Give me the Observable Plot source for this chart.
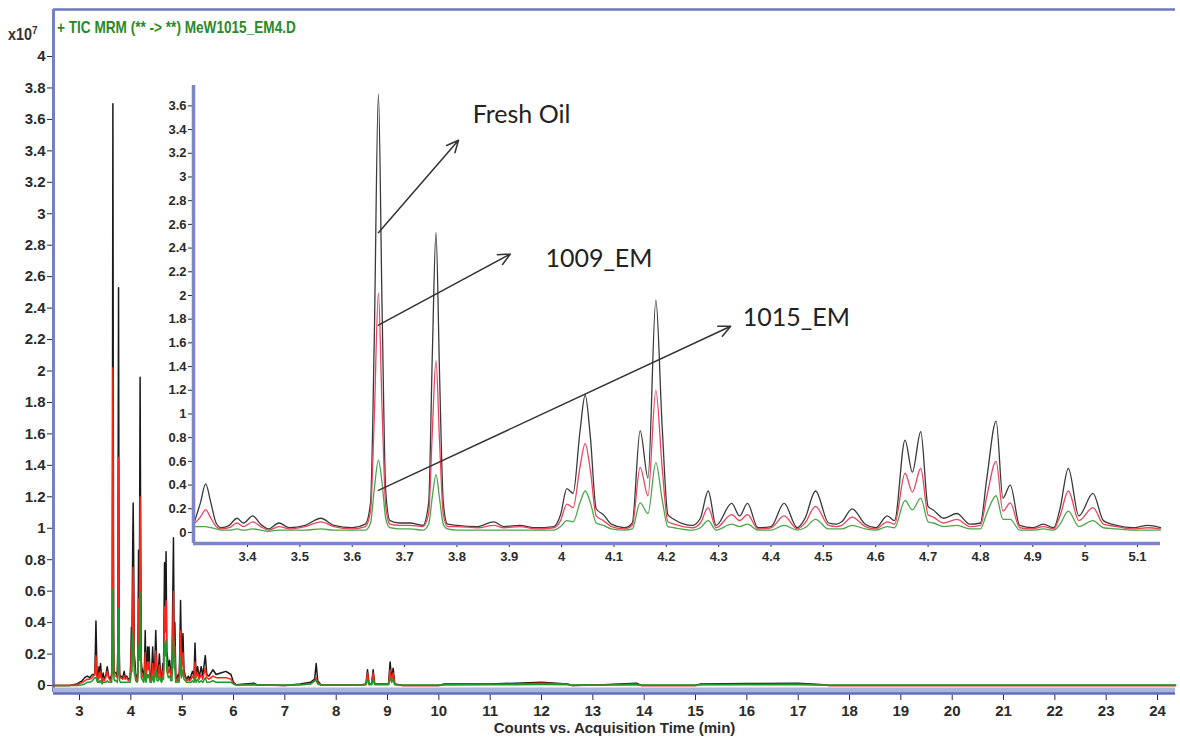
<!DOCTYPE html>
<html><head><meta charset="utf-8">
<script src="https://cdn.jsdelivr.net/npm/d3@7"></script>
<script src="https://cdn.jsdelivr.net/npm/@observablehq/plot@0.6"></script>
<style>
body{margin:0;background:#fff;}
#wrap{position:relative;width:1180px;height:740px;overflow:hidden;font-family:"Liberation Sans",Arial,sans-serif;background:#fff;}
#main,#inset{position:absolute;}
#main{left:0;top:0;}
#inset{left:143px;top:75px;}
#title{position:absolute;left:57px;top:18px;color:#2a8a2a;font-weight:bold;font-size:17px;transform:scaleX(0.8);transform-origin:left top;white-space:nowrap;}
#mult{position:absolute;left:8px;top:24px;font-size:16px;font-weight:bold;color:#333;transform:scaleX(0.9);transform-origin:left top;}
#mult sup{font-size:11px;}
</style></head>
<body>
<div id="wrap">
  <div id="main"></div>
  <div id="inset"></div>
  <div id="title">+ TIC MRM (** -&gt; **) MeW1015_EM4.D</div>
  <div id="mult">x10<sup>7</sup></div>
</div>
<script>
// ---------- Data (values in x10^7 counts) ----------
const seriesNames = ["Fresh Oil", "1009_EM", "1015_EM"];
const seriesColorsMain = ["#1a1a1a", "#ff2418", "#1f9a2a"];
const seriesColorsInset = ["#3a3a3a", "#e8465e", "#4ea64a"];

// Inset window (3.3 - 5.14 min)
const insetTime = [3.297,3.310,3.320,3.330,3.340,3.350,3.365,3.380,3.392,3.410,3.425,3.440,3.460,3.480,3.510,3.540,3.565,3.600,3.625,3.635,3.642,3.650,3.657,3.664,3.672,3.690,3.710,3.735,3.746,3.753,3.760,3.767,3.774,3.782,3.800,3.840,3.870,3.890,3.920,3.950,3.985,3.998,4.010,4.022,4.035,4.045,4.055,4.066,4.080,4.095,4.120,4.135,4.150,4.165,4.180,4.192,4.203,4.215,4.250,4.265,4.280,4.295,4.325,4.340,4.355,4.375,4.400,4.425,4.450,4.465,4.485,4.510,4.525,4.535,4.555,4.580,4.600,4.622,4.636,4.656,4.670,4.686,4.700,4.710,4.730,4.755,4.780,4.800,4.812,4.830,4.843,4.857,4.875,4.900,4.920,4.940,4.952,4.968,4.988,5.015,5.035,5.060,5.090,5.120,5.144];
const insetFresh = [0.07,0.25,0.41,0.25,0.08,0.04,0.06,0.12,0.08,0.14,0.07,0.03,0.08,0.04,0.06,0.12,0.06,0.04,0.07,0.25,1.6,3.70,1.9,0.35,0.10,0.08,0.08,0.06,0.25,1.5,2.53,1.3,0.25,0.07,0.06,0.05,0.09,0.05,0.06,0.04,0.05,0.15,0.37,0.33,0.85,1.16,0.8,0.2,0.15,0.07,0.04,0.08,0.86,0.46,1.96,0.9,0.15,0.11,0.06,0.12,0.35,0.06,0.245,0.14,0.245,0.04,0.05,0.245,0.04,0.12,0.35,0.08,0.07,0.09,0.20,0.07,0.04,0.14,0.10,0.78,0.51,0.85,0.22,0.19,0.12,0.16,0.07,0.08,0.45,0.94,0.29,0.40,0.06,0.04,0.07,0.04,0.2,0.54,0.14,0.33,0.10,0.06,0.04,0.06,0.04];
const inset1009 = [0.07,0.13,0.19,0.12,0.05,0.03,0.04,0.08,0.05,0.09,0.05,0.02,0.05,0.03,0.05,0.09,0.05,0.03,0.05,0.18,0.95,2.02,1.05,0.22,0.07,0.06,0.06,0.05,0.16,0.85,1.45,0.75,0.15,0.05,0.05,0.04,0.06,0.04,0.05,0.03,0.04,0.10,0.24,0.21,0.55,0.75,0.52,0.14,0.10,0.05,0.03,0.06,0.55,0.31,1.20,0.55,0.09,0.07,0.04,0.08,0.21,0.04,0.15,0.10,0.15,0.03,0.04,0.14,0.03,0.08,0.22,0.06,0.05,0.06,0.13,0.05,0.03,0.09,0.07,0.50,0.34,0.54,0.15,0.13,0.08,0.11,0.05,0.06,0.30,0.60,0.18,0.25,0.04,0.03,0.05,0.03,0.14,0.35,0.10,0.21,0.07,0.05,0.03,0.04,0.03];
const inset1015 = [0.05,0.05,0.05,0.04,0.03,0.02,0.02,0.03,0.02,0.03,0.02,0.01,0.02,0.02,0.02,0.03,0.02,0.02,0.02,0.08,0.36,0.61,0.42,0.12,0.04,0.03,0.03,0.02,0.07,0.30,0.49,0.28,0.07,0.03,0.02,0.02,0.02,0.02,0.02,0.02,0.02,0.05,0.10,0.09,0.25,0.35,0.25,0.08,0.06,0.03,0.02,0.03,0.25,0.16,0.59,0.28,0.05,0.04,0.02,0.04,0.10,0.02,0.07,0.05,0.07,0.02,0.02,0.06,0.02,0.04,0.11,0.03,0.03,0.03,0.06,0.03,0.02,0.05,0.04,0.27,0.19,0.29,0.09,0.08,0.05,0.06,0.03,0.03,0.16,0.31,0.11,0.11,0.02,0.02,0.03,0.02,0.07,0.18,0.05,0.10,0.04,0.03,0.02,0.02,0.02];

// Main chart, before the inset window
const earlyTime  = [2.49,2.80,2.95,3.05,3.10,3.15,3.20,3.25];
const earlyFresh = [0,0,0.01,0.03,0.05,0.06,0.05,0.07];
const early1009  = [0,0,0.005,0.02,0.03,0.04,0.04,0.05];
const early1015  = [0,0,0,0.005,0.01,0.02,0.02,0.03];

// Main chart, after the inset window
const lateTime  = [5.17,5.20,5.23,5.25,5.27,5.30,5.33,5.37,5.40,5.45,5.48,5.52,5.60,5.66,5.75,5.85,5.95,6.00,6.05,6.40,6.45,7.00,7.30,7.50,7.58,7.61,7.64,7.70,8.50,8.58,8.61,8.64,8.69,8.72,8.75,9.02,9.05,9.08,9.11,9.14,9.30,10.0,10.1,11.0,11.5,12.0,12.5,12.6,13.2,13.85,13.95,15.0,15.1,16.0,17.0,17.5,17.6,24.35];
const lateFresh = [0.06,0.09,0.06,0.27,0.07,0.12,0.05,0.12,0.06,0.19,0.07,0.06,0.10,0.07,0.08,0.09,0.07,0.02,0.005,0.015,0.005,0.0,0.01,0.02,0.04,0.14,0.03,0.005,0.005,0.01,0.10,0.01,0.01,0.10,0.01,0.01,0.15,0.04,0.11,0.01,0.0,0.0,0.01,0.01,0.015,0.02,0.01,0.0,0.005,0.015,0.0,0.0,0.01,0.012,0.015,0.005,0.0,0.0];
const late1009  = [0.04,0.06,0.04,0.15,0.05,0.08,0.04,0.07,0.04,0.11,0.05,0.04,0.06,0.05,0.05,0.05,0.04,0.01,0.003,0.008,0.003,0.0,0.005,0.01,0.03,0.05,0.02,0.003,0.003,0.008,0.08,0.008,0.008,0.08,0.008,0.008,0.10,0.03,0.08,0.008,0.0,0.0,0.005,0.008,0.01,0.015,0.01,0.0,0.003,0.01,0.0,0.0,0.006,0.008,0.01,0.003,0.0,0.0];
const late1015  = [0.02,0.03,0.02,0.06,0.02,0.04,0.02,0.03,0.02,0.05,0.02,0.02,0.03,0.02,0.02,0.02,0.02,0.01,0.003,0.004,0.003,0.003,0.004,0.01,0.03,0.03,0.01,0.003,0.003,0.005,0.04,0.005,0.005,0.04,0.005,0.005,0.05,0.02,0.04,0.005,0.003,0.003,0.004,0.004,0.005,0.006,0.005,0.003,0.003,0.005,0.003,0.003,0.004,0.005,0.005,0.003,0.003,0.003];

// Axis ticks
const mainXTicks = [3,4,5,6,7,8,9,10,11,12,13,14,15,16,17,18,19,20,21,22,23,24];
const mainYTicks = [0,0.2,0.4,0.6,0.8,1,1.2,1.4,1.6,1.8,2,2.2,2.4,2.6,2.8,3,3.2,3.4,3.6,3.8,4];
const insetXTicks = [3.4,3.5,3.6,3.7,3.8,3.9,4,4.1,4.2,4.3,4.4,4.5,4.6,4.7,4.8,4.9,5,5.1];
const insetYTicks = [0,0.2,0.4,0.6,0.8,1,1.2,1.4,1.6,1.8,2,2.2,2.4,2.6,2.8,3,3.2,3.4,3.6];

// Annotation arrows (inset data coordinates)
const arrowStartT = [3.650, 3.650, 3.650];
const arrowStartV = [2.53, 1.75, 0.355];
const arrowEndT   = [3.803, 3.902, 4.323];
const arrowEndV   = [3.31, 2.35, 1.74];
const labelT = [3.830, 3.969, 4.346];
const labelV = [3.52, 2.31, 1.81];

// ---------- Build tables ----------
function toRows(times, vals, name) { return times.map((t, i) => ({t, v: vals[i], s: name})); }
const insetVals = [insetFresh, inset1009, inset1015];
const earlyVals = [earlyFresh, early1009, early1015];
const lateVals = [lateFresh, late1009, late1015];
const mainTime = [...earlyTime, ...insetTime, ...lateTime];
const mainSeries = seriesNames.map((n, k) => toRows(mainTime, [...earlyVals[k], ...insetVals[k], ...lateVals[k]], n));
const insetSeries = seriesNames.map((n, k) => toRows(insetTime, insetVals[k], n));
const arrows = seriesNames.map((n, i) => ({x1: arrowStartT[i], y1: arrowStartV[i], x2: arrowEndT[i], y2: arrowEndV[i]}));
const labels = seriesNames.map((n, i) => ({t: labelT[i], v: labelV[i], name: n}));

const fmt = d => d3.format("~g")(+d.toFixed(1));

const mainX = [2.493, 24.35], mainY = [-0.0445, 4.299];
const mainPlot = Plot.plot({
  width: 1180, height: 740,
  marginLeft: 53, marginTop: 9, marginRight: 5, marginBottom: 48,
  style: {background: "transparent", fontFamily: "Liberation Sans, Arial, sans-serif", fontSize: "15px", color: "#2b2b2b", fontWeight: "bold"},
  x: {domain: mainX, ticks: mainXTicks, tickFormat: fmt, tickSize: 8, tickPadding: 5, label: "Counts vs. Acquisition Time (min)", labelArrow: "none", labelAnchor: "center", labelOffset: 40},
  y: {domain: mainY, ticks: mainYTicks, tickFormat: fmt, tickSize: 6, tickPadding: 2, label: null},
  marks: [
    Plot.ruleY([mainY[1]], {stroke: "#6c78c0", strokeWidth: 2.5}),
    Plot.ruleX([mainX[0]], {stroke: "#7480c4", strokeWidth: 3}),
    ...mainSeries.map((rows, k) => Plot.line(rows, {x: "t", y: "v", stroke: seriesColorsMain[k], strokeWidth: 1.5})),
    Plot.ruleY([mainY[0]], {stroke: "#aab4dc", strokeWidth: 6, dy: -2}),
    Plot.ruleY([mainY[0]], {stroke: "#5f6fbc", strokeWidth: 2.5, dy: 1})
  ]
});
document.getElementById("main").appendChild(mainPlot);

const insetX = [3.2968, 5.144], insetY = [-0.093, 3.772];
const insetPlot = Plot.plot({
  width: 1030, height: 500,
  marginLeft: 50, marginTop: 10, marginRight: 13, marginBottom: 32,
  style: {background: "transparent", fontFamily: "Liberation Sans, Arial, sans-serif", fontSize: "13px", color: "#2b2b2b", fontWeight: "bold"},
  x: {domain: insetX, ticks: insetXTicks, tickFormat: fmt, tickSize: 4, tickPadding: 4, label: null},
  y: {domain: insetY, ticks: insetYTicks, tickFormat: fmt, tickSize: 5, tickPadding: 2, label: null},
  marks: [
    ...insetSeries.map((rows, k) => Plot.line(rows, {x: "t", y: "v", stroke: seriesColorsInset[k], strokeWidth: 1.3, curve: "monotone-x"})),
    Plot.ruleX([insetX[0]], {stroke: "#7c84cc", strokeWidth: 3.5}),
    Plot.ruleY([insetY[0]], {stroke: "#7c84cc", strokeWidth: 3.5}),
    Plot.arrow(arrows, {x1: "x1", y1: "y1", x2: "x2", y2: "y2", stroke: "#333", strokeWidth: 1.5, headLength: 13, headAngle: 50}),
    Plot.text(labels, {x: "t", y: "v", text: "name", textAnchor: "start", lineAnchor: "middle", fontSize: 25, fontWeight: "normal", fill: "#222", fontFamily: "Lato, 'Open Sans', sans-serif"})
  ]
});
document.getElementById("inset").appendChild(insetPlot);
</script>
</body></html>
